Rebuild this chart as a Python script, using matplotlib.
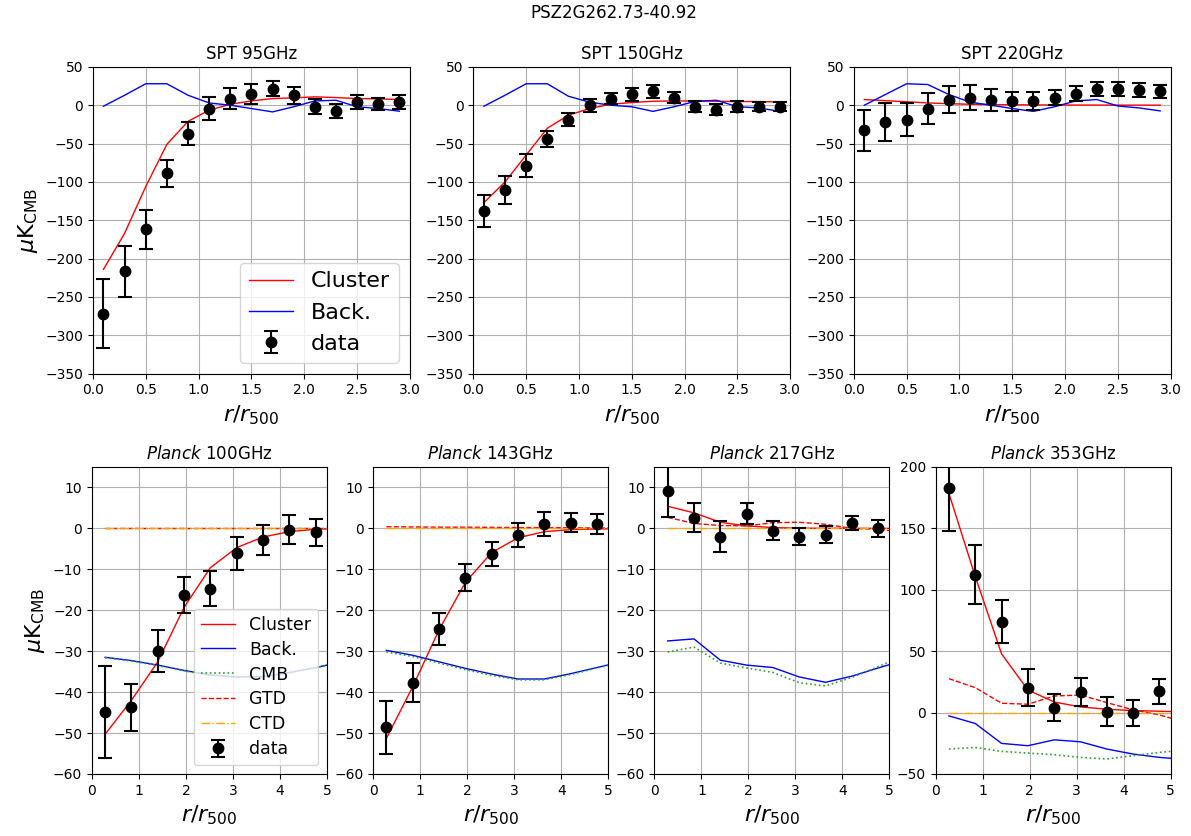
import matplotlib
matplotlib.use("Agg")
import matplotlib.pyplot as plt
from matplotlib.gridspec import GridSpec
import numpy as np

# ---------------- data ----------------
title = "PSZ2G262.73-40.92"

spt_r = [0.1, 0.3, 0.5, 0.7, 0.9, 1.1, 1.3, 1.5, 1.7, 1.9, 2.1, 2.3, 2.5, 2.7, 2.9]

spt95_data = [-271.7, -216.5, -162, -89, -37, -4.3, 8.7, 15.2, 21.7, 13, -2, -7.4, 4.3, 2, 4.3]
spt95_err = [45, 33, 25, 18, 15, 15, 13.5, 13, 10, 11, 10, 9, 9, 8, 9]
spt95_cluster = [-214, -167, -106, -51, -21, -6.5, 1.3, 5.6, 8.7, 9.6, 10.9, 10, 8.7, 8.3, 7.4]
spt95_back = [-1.3, 13, 28, 28, 13, 3, 0, -4.3, -8.7, -2, 5.6, 6.5, -2, -4.3, -7.8]

spt150_data = [-137.8, -110.9, -79, -44, -18.7, 0, 8.7, 14, 18, 10, -2, -5.7, -2, -2, -2]
spt150_err = [21, 18, 15, 11, 9, 8.5, 7.5, 8, 8, 7, 7, 7, 7, 6, 6]
spt150_cluster = [-127, -100, -65, -30, -13, -4.3, 1.3, 3.5, 5.2, 5.6, 5.6, 5.2, 4.8, 4.8, 4.3]
spt150_back = [-1.3, 13, 28, 28, 11.7, 4, 0, -2, -8, -2, 5, 6.5, -2, -3.5, -8]

spt220_data = [-32.6, -22, -18.7, -4.3, 7.4, 10, 6.5, 5.2, 5.2, 10, 15.2, 21, 21, 19.6, 18]
spt220_err = [27, 25, 22, 20, 18, 16, 14.5, 12.5, 11.5, 10, 10, 9, 9.5, 9, 9]
spt220_cluster = [7.4, 6, 4.5, 3, 2, 1.3, 0.9, 0.6, 0.4, 0.3, 0.2, 0.2, 0.1, 0.1, 0.1]
spt220_back = [0, 14, 28, 27, 14, 4, 0, -4.3, -8, -2, 5.6, 7.4, -1, -3.5, -7.4]

planck_r = [0.28, 0.84, 1.40, 1.96, 2.52, 3.08, 3.64, 4.20, 4.76]
planck_model_r = [0.28, 0.84, 1.40, 1.96, 2.52, 3.08, 3.64, 4.20, 4.76, 5.32]

p100_data = [-44.9, -43.7, -30, -16.2, -14.7, -6.1, -2.8, -0.3, -0.9]
p100_err = [11.3, 5.8, 5.2, 4.4, 4.3, 4.0, 3.7, 3.6, 3.3]
p100_cluster = [-50.3, -42, -32.6, -19.3, -9.6, -4.7, -2.1, -0.8, -0.2, 0.0]
p100_back = [-31.5, -32.3, -33.4, -34.7, -35.8, -36.3, -36.2, -35.2, -34, -32.6]
p100_cmb = [-31.6, -32.4, -33.5, -34.8, -35.9, -36.4, -36.3, -35.3, -34.1, -32.7]
p100_gtd = [0.1, 0.1, 0.1, 0.1, 0.1, 0.1, 0.1, 0.1, 0.1, 0.1]
p100_ctd = [0, 0, 0, 0, 0, 0, 0, 0, 0, 0]

p143_data = [-48.6, -37.7, -24.5, -12.1, -6.3, -1.7, 1.0, 1.4, 1.1]
p143_err = [6.5, 4.7, 3.9, 3.3, 3.0, 2.9, 2.9, 2.4, 2.4]
p143_cluster = [-51.3, -38.7, -24.8, -13.2, -5.9, -2.3, -0.8, -0.3, -0.15, -0.05]
p143_back = [-29.8, -31, -32.6, -34.2, -35.6, -36.8, -36.8, -35.5, -34, -32.5]
p143_cmb = [-30.2, -31.3, -32.9, -34.5, -35.9, -37, -37, -35.7, -34.1, -32.6]
p143_gtd = [0.4, 0.35, 0.3, 0.3, 0.25, 0.2, 0.2, 0.15, 0.1, 0.1]
p143_ctd = [0, 0, 0, 0, 0, 0, 0, 0, 0, 0]

p217_data = [9.1, 2.6, -2.0, 3.6, -0.6, -2.0, -1.5, 1.4, 0.0]
p217_err = [6.3, 3.5, 3.7, 2.6, 2.3, 2.0, 2.1, 1.7, 2.0]
p217_cluster = [5.4, 3.8, 1.5, 0.6, 0.2, 0.05, 0.02, 0.01, 0.0, 0.0]
p217_back = [-27.5, -27, -32.2, -33.4, -34, -36.3, -37.6, -36.1, -34.1, -32.2]
p217_cmb = [-30.2, -29, -32.9, -34.1, -35.2, -37.7, -38.5, -36.4, -33.8, -31]
p217_gtd = [2.7, 1.2, 0.7, 0.6, 1.4, 1.5, 1.0, 0.0, -0.2, -1.0]
p217_ctd = [0, 0, 0, 0, 0, 0, 0, 0, 0, 0]

p353_data = [183.2, 112.2, 74, 20.3, 4, 16.8, 0.8, -0.5, 17.3]
p353_err = [35, 24, 17.7, 15, 11.2, 11.7, 11.9, 10.5, 10.3]
p353_cluster = [178.4, 110.8, 47.8, 18.4, 8.6, 4.6, 2.7, 1.6, 1.1, 0.5]
p353_back = [-2.7, -8.9, -25.1, -27, -22.2, -23.8, -29.7, -33.8, -36.5, -38.2]
p353_cmb = [-29.7, -28.4, -31.6, -33, -34.3, -36.5, -37.8, -35.1, -32.4, -30.6]
p353_gtd = [27.6, 20.3, 7.6, 6.8, 13.5, 14.3, 8.1, 2.2, -1.9, -8.0]
p353_ctd = [0, 0, 0, 0, 0, 0, 0, 0, 0, 0]

spt_panels = [
    ("SPT 95GHz", spt95_data, spt95_err, spt95_cluster, spt95_back),
    ("SPT 150GHz", spt150_data, spt150_err, spt150_cluster, spt150_back),
    ("SPT 220GHz", spt220_data, spt220_err, spt220_cluster, spt220_back),
]
planck_panels = [
    ("100GHz", p100_data, p100_err, p100_cluster, p100_back, p100_cmb, p100_gtd, p100_ctd, (-60, 15), np.arange(-60, 11, 10)),
    ("143GHz", p143_data, p143_err, p143_cluster, p143_back, p143_cmb, p143_gtd, p143_ctd, (-60, 15), np.arange(-60, 11, 10)),
    ("217GHz", p217_data, p217_err, p217_cluster, p217_back, p217_cmb, p217_gtd, p217_ctd, (-60, 15), np.arange(-60, 11, 10)),
    ("353GHz", p353_data, p353_err, p353_cluster, p353_back, p353_cmb, p353_gtd, p353_ctd, (-50, 200), np.arange(-50, 201, 50)),
]

# ---------------- figure ----------------
fig = plt.figure(figsize=(11.91, 8.36), dpi=100)
fig.text(0.515, 0.984, title, ha="center", va="center", fontsize=12)

gs_top = GridSpec(1, 3, figure=fig, left=0.078, right=0.983, top=0.920, bottom=0.553, wspace=0.2)
gs_bot = GridSpec(1, 4, figure=fig, left=0.0772, right=0.983, top=0.4414, bottom=0.0742, wspace=0.197)

eb_kw = dict(fmt="o", color="k", ecolor="k", capsize=5, elinewidth=1.5, capthick=1.5, markersize=7.5)
ylab = r"$\mu\mathrm{K}_{\mathrm{CMB}}$"
xlab = r"$r/r_{500}$"

for i, (name, d, e, cl, bk) in enumerate(spt_panels):
    ax = fig.add_subplot(gs_top[0, i])
    ax.plot(spt_r, cl, color="red", lw=1, label="Cluster")
    ax.plot(spt_r, bk, color="blue", lw=1, label="Back.")
    ax.errorbar(spt_r, d, yerr=e, label="data", **eb_kw)
    ax.set_xlim(0, 3)
    ax.set_ylim(-350, 50)
    ax.set_xticks(np.arange(0, 3.01, 0.5))
    ax.set_yticks(np.arange(-350, 51, 50))
    ax.grid(True)
    ax.set_title(name, fontsize=12)
    ax.set_xlabel(xlab, fontsize=16)
    if i == 0:
        ax.set_ylabel(ylab, fontsize=16)
        ax.legend(loc="lower right", fontsize=16)

for i, (name, d, e, cl, bk, cmb, gtd, ctd, ylim, yt) in enumerate(planck_panels):
    ax = fig.add_subplot(gs_bot[0, i])
    ax.plot(planck_model_r, cl, color="red", lw=1, label="Cluster")
    ax.plot(planck_model_r, bk, color="blue", lw=1, label="Back.")
    ax.plot(planck_model_r, cmb, color="#2ca02c", lw=1.2, ls=":", label="CMB")
    ax.plot(planck_model_r, gtd, color="red", lw=1, ls="--", label="GTD")
    ax.plot(planck_model_r, ctd, color="orange", lw=1, ls="-.", label="CTD")
    ax.errorbar(planck_r, d, yerr=e, label="data", **eb_kw)
    ax.set_xlim(0, 5)
    ax.set_ylim(*ylim)
    ax.set_xticks(np.arange(0, 6, 1))
    ax.set_yticks(yt)
    ax.grid(True)
    ax.set_title(r"$\it{Planck}$ " + name, fontsize=12)
    ax.set_xlabel(xlab, fontsize=16)
    if i == 0:
        ax.set_ylabel(ylab, fontsize=16)
        ax.legend(loc="lower right", fontsize=12.5, labelspacing=0.4)

fig.savefig("out.png", dpi=100)
